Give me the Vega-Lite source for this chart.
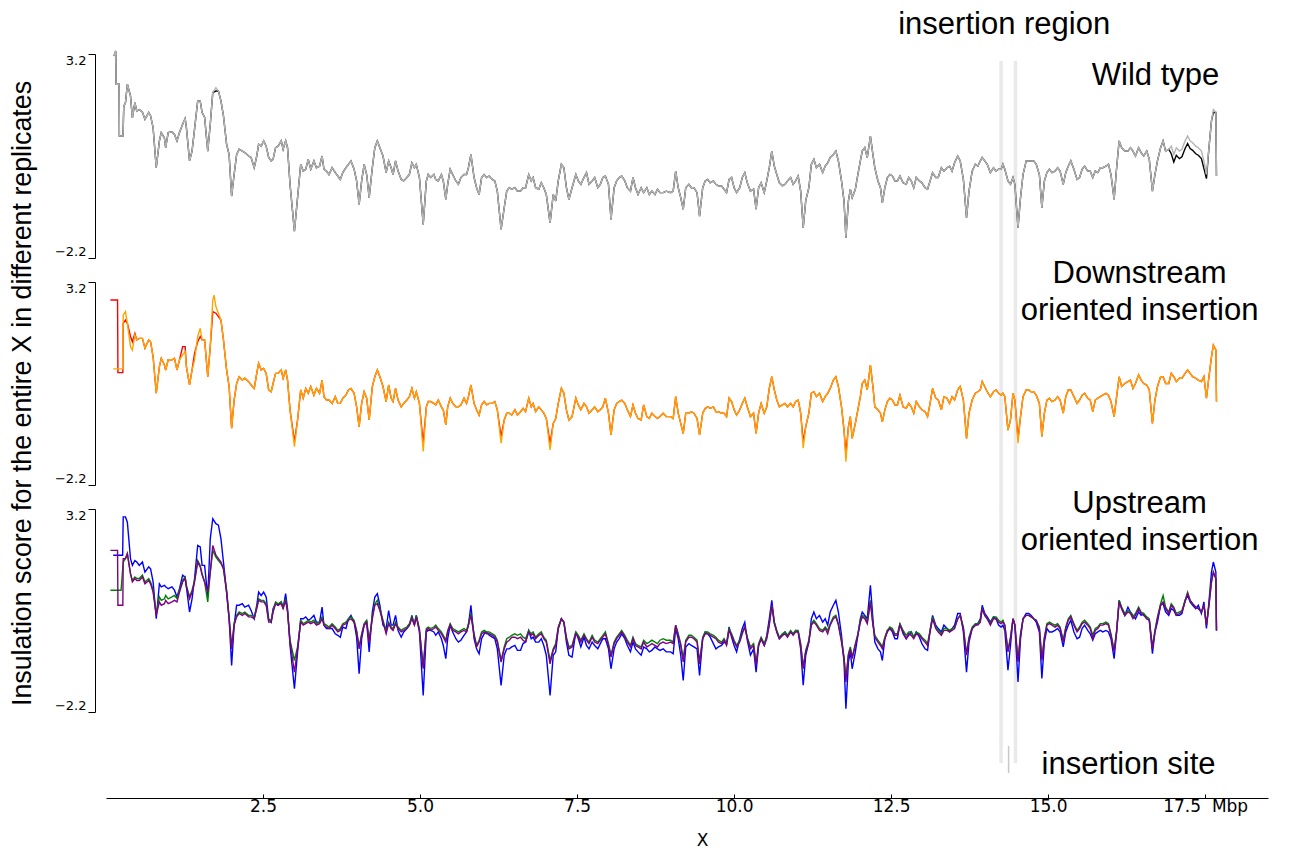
{
"$schema": "https://vega.github.io/schema/vega-lite/v6.json",
"background": "white",
"padding": {"left": 9, "top": 8, "right": 5, "bottom": 5},
"autosize": {"type": "pad"},
"config": {"view": {"stroke": null}, "axis": {"grid": false}},
"bounds": "flush",
"spacing": 24,
"resolve": {"scale": {"x": "independent", "y": "independent", "color": "independent"}},
"datasets": {
"ins": [{"pos": 14.25}, {"pos": 14.48}],
"scores": [
{"x":0.274,"d1":2.1,"d2":2.32,"u1":2.99,"u2":1.79,"u3":1.88},
{"x":0.07,"d1":2.72,"u2":1.04,"u3":2.1},
{"x":0.115,"d2":0.89,"u1":1.97},
{"x":0.127,"w1":3.15,"w2":3.15},
{"x":0.155,"w1":3.28,"w2":3.28},
{"x":0.161,"w1":2.4,"w2":2.4},
{"x":0.184,"d1":2.72,"u3":2.1},
{"x":0.19,"d1":0.79,"u3":0.64},
{"x":0.208,"w1":2.4,"w2":2.4},
{"x":0.213,"w1":1.03,"w2":1.03},
{"x":0.24,"u2":1.04},
{"x":0.265,"d2":0.89,"u1":1.97},
{"x":0.268,"d1":0.79,"u3":0.64},
{"x":0.271,"w1":1.03,"w2":1.03},
{"x":0.283,"w1":1.82,"w2":1.82},
{"x":0.31,"w1":1.91,"w2":1.91,"d1":2.19,"d2":2.41,"u1":2.99,"u2":1.88,"u3":1.88},
{"x":0.34,"w1":2.4,"w2":2.4,"d1":2.1,"d2":2.1,"u1":2.85,"u2":2.01,"u3":2.01},
{"x":0.39,"w1":2.09,"w2":2.09,"d1":1.75,"d2":1.48,"u1":1.88,"u2":1.48,"u3":1.48},
{"x":0.42,"w1":1.51,"w2":1.51,"d1":1.61,"d2":1.39,"u1":1.7,"u2":1.3,"u3":1.26},
{"x":0.46,"w1":1.91,"w2":1.91,"d1":1.83,"d2":1.79,"u1":1.83,"u2":1.39,"u3":1.35},
{"x":0.49,"w1":1.69,"w2":1.69,"d1":1.66,"d2":1.66,"u1":1.79,"u2":1.35,"u3":1.3},
{"x":0.53,"w1":1.73,"w2":1.73,"d1":1.7,"d2":1.7,"u1":1.7,"u2":1.35,"u3":1.3},
{"x":0.58,"w1":1.66,"w2":1.66,"d1":1.7,"d2":1.7,"u1":1.79,"u2":1.44,"u3":1.39},
{"x":0.62,"w1":1.47,"w2":1.47,"d1":1.44,"d2":1.44,"u1":1.52,"u2":1.26,"u3":1.21},
{"x":0.68,"w1":1.65,"w2":1.65,"d1":1.66,"d2":1.66,"u1":1.66,"u2":1.35,"u3":1.3},
{"x":0.71,"w1":1.56,"w2":1.56,"d1":1.61,"d2":1.61,"u1":1.61,"u2":1.26,"u3":1.21},
{"x":0.75,"w1":1.25,"w2":1.25,"d1":1.21,"d2":1.21,"u1":1.26,"u2":1.04,"u3":0.99},
{"x":0.8,"w1":0.19,"w2":0.19,"d1":0.24,"d2":0.24,"u1":0.28,"u2":0.42,"u3":0.37},
{"x":0.85,"w1":0.9,"w2":0.9,"d1":0.95,"d2":0.95,"u1":1.21,"u2":0.86,"u3":0.73},
{"x":0.88,"w1":1.12,"w2":1.12,"d1":1.17,"d2":1.17,"u1":1.13,"u2":0.77,"u3":0.64},
{"x":0.93,"w1":0.98,"w2":0.98,"d1":0.99,"d2":0.99,"u1":1.17,"u2":0.81,"u3":0.68},
{"x":0.95,"w1":0.72,"w2":0.72,"d1":0.86,"d2":0.86,"u1":1.13,"u2":0.9,"u3":0.77},
{"x":0.99,"w1":1.12,"w2":1.12,"d1":1.13,"d2":1.13,"u1":1.08,"u2":0.81,"u3":0.68},
{"x":1.05,"w1":1.14,"w2":1.14,"d1":1.13,"d2":1.13,"u1":1.13,"u2":0.86,"u3":0.73},
{"x":1.09,"w1":1.07,"w2":1.07,"d1":1.17,"d2":1.17,"u1":1.04,"u2":0.9,"u3":0.77},
{"x":1.13,"w1":0.9,"w2":0.9,"d1":0.86,"d2":0.86,"u1":0.86,"u2":0.82,"u3":0.73},
{"x":1.17,"w1":1.12,"w2":1.12,"d1":1.13,"d2":1.13,"u1":1.08,"u2":1.04,"u3":0.99},
{"x":1.22,"w1":1.34,"w2":1.34,"d1":1.48,"d2":1.26,"u1":1.44,"u2":1.3,"u3":1.26},
{"x":1.26,"w1":1.49,"w2":1.49,"d1":1.48,"d2":1.35,"u1":1.39,"u2":1.39,"u3":1.35},
{"x":1.28,"w1":1.25,"w2":1.25,"d1":0.95,"d2":0.95,"u1":1.13,"u2":1.17,"u3":1.13},
{"x":1.33,"w1":0.37,"w2":0.37,"d1":0.46,"d2":0.46,"u1":0.46,"u2":0.86,"u3":0.81},
{"x":1.37,"w1":0.63,"w2":0.63,"d1":0.86,"d2":0.86,"u1":0.81,"u2":1.04,"u3":0.99},
{"x":1.41,"w1":1.21,"w2":1.21,"d1":1.3,"d2":1.13,"u1":1.35,"u2":1.3,"u3":1.26},
{"x":1.46,"w1":1.96,"w2":1.96,"d1":1.61,"d2":1.75,"u1":2.23,"u2":1.83,"u3":1.79},
{"x":1.5,"w1":1.96,"w2":1.96,"d1":1.75,"d2":1.97,"u1":2.19,"u2":1.7,"u3":1.66},
{"x":1.53,"w1":1.65,"w2":1.65,"d1":1.66,"d2":1.66,"u1":1.7,"u2":1.48,"u3":1.44},
{"x":1.57,"w1":1.53,"w2":1.53,"d1":1.66,"d2":1.66,"u1":1.7,"u2":1.26,"u3":1.26},
{"x":1.62,"w1":0.63,"w2":0.63,"d1":0.68,"d2":0.68,"u1":0.86,"u2":0.73,"u3":0.99},
{"x":1.66,"w1":1.34,"w2":1.34,"d1":1.48,"d2":1.48,"u1":2.41,"u2":1.52,"u3":1.52},
{"x":1.7,"w1":2.18,"w2":2.18,"d1":2.41,"d2":2.72,"u1":2.94,"u2":2.1,"u3":2.23},
{"x":1.72,"d2":2.85},
{"x":1.75,"w1":2.22,"w2":2.31,"d1":2.37,"d2":2.54,"u1":2.81,"u2":1.92,"u3":1.97},
{"x":1.79,"w1":2.22,"w2":2.22,"d1":2.28,"d2":2.37,"u1":2.77,"u2":1.83,"u3":1.88},
{"x":1.83,"w1":1.96,"w2":1.96,"d1":2.19,"d2":2.19,"u1":2.41,"u2":1.75,"u3":1.79},
{"x":1.87,"w1":1.56,"w2":1.56,"d1":1.66,"d2":1.66,"u1":1.79,"u2":1.61,"u3":1.61},
{"x":1.92,"w1":0.81,"w2":0.81,"d1":0.86,"d2":0.86,"u1":0.99,"u2":1.04,"u3":0.99},
{"x":1.96,"w1":0.54,"w2":0.54,"d1":0.42,"d2":0.42,"u1":0.28,"u2":0.33,"u3":0.28},
{"x":2.0,"w1":-0.56,"w2":-0.56,"d1":-0.69,"d2":-0.69,"u1":-0.96,"u2":-0.47,"u3":-0.52},
{"x":2.04,"w1":0.01,"w2":0.01,"d1":0.06,"d2":0.06,"u1":0.11,"u2":0.15,"u3":0.11},
{"x":2.08,"w1":0.54,"w2":0.54,"d1":0.5,"d2":0.5,"u1":0.64,"u2":0.37,"u3":0.33},
{"x":2.12,"w1":0.68,"w2":0.68,"d1":0.68,"d2":0.68,"u1":0.64,"u2":0.46,"u3":0.42},
{"x":2.17,"w1":0.63,"w2":0.63,"d1":0.59,"d2":0.59,"u1":0.68,"u2":0.42,"u3":0.37},
{"x":2.21,"w1":0.59,"w2":0.59,"d1":0.64,"d2":0.64,"u1":0.59,"u2":0.46,"u3":0.42},
{"x":2.27,"w1":0.5,"w2":0.5,"d1":0.55,"d2":0.55,"u1":0.64,"u2":0.37,"u3":0.33},
{"x":2.31,"w1":0.46,"w2":0.46,"d1":0.46,"d2":0.46,"u1":0.5,"u2":0.37,"u3":0.33},
{"x":2.36,"w1":0.19,"w2":0.19,"d1":0.37,"d2":0.37,"u1":0.28,"u2":0.33,"u3":0.28},
{"x":2.4,"w1":0.5,"w2":0.5,"d1":0.77,"d2":0.77,"u1":0.64,"u2":0.59,"u3":0.55},
{"x":2.43,"w1":0.81,"w2":0.81,"d1":1.04,"d2":1.04,"u1":0.99,"u2":0.81,"u3":0.77},
{"x":2.47,"w1":0.76,"w2":0.76,"d1":0.86,"d2":0.86,"u1":0.9,"u2":0.77,"u3":0.73},
{"x":2.51,"w1":0.9,"w2":0.9,"d1":0.9,"d2":0.9,"u1":0.99,"u2":0.77,"u3":0.73},
{"x":2.55,"w1":0.76,"w2":0.76,"d1":0.77,"d2":0.77,"u1":0.86,"u2":0.68,"u3":0.64},
{"x":2.59,"w1":0.46,"w2":0.46,"d1":0.33,"d2":0.33,"u1":0.28,"u2":0.24,"u3":0.19},
{"x":2.63,"w1":0.37,"w2":0.37,"d1":0.28,"d2":0.28,"u1":0.19,"u2":0.24,"u3":0.19},
{"x":2.66,"w1":0.41,"w2":0.41,"d1":0.5,"d2":0.5,"u1":0.55,"u2":0.5,"u3":0.46},
{"x":2.7,"w1":0.72,"w2":0.72,"d1":0.77,"d2":0.77,"u1":0.68,"u2":0.73,"u3":0.68},
{"x":2.74,"w1":0.76,"w2":0.76,"d1":0.77,"d2":0.77,"u1":0.64,"u2":0.68,"u3":0.64},
{"x":2.79,"w1":0.9,"w2":0.9,"d1":0.86,"d2":0.86,"u1":0.73,"u2":0.73,"u3":0.68},
{"x":2.82,"w1":0.68,"w2":0.68,"d1":0.64,"d2":0.64,"u1":0.55,"u2":0.59,"u3":0.55},
{"x":2.86,"w1":0.9,"w2":0.9,"d1":0.86,"d2":0.86,"u1":0.95,"u2":0.81,"u3":0.77},
{"x":2.89,"w1":0.72,"w2":0.72,"d1":0.59,"d2":0.59,"u1":0.55,"u2":0.5,"u3":0.46},
{"x":2.93,"w1":-0.25,"w2":-0.25,"d1":-0.2,"d2":-0.2,"u1":-0.43,"u2":-0.29,"u3":-0.34},
{"x":3.0,"w1":-1.49,"w2":-1.49,"d1":-1.05,"d2":-1.18,"u1":-1.58,"u2":-0.83,"u3":-1.14},
{"x":3.05,"w1":-0.6,"w2":-0.6,"d1":-0.47,"d2":-0.47,"u1":-0.6,"u2":-0.47,"u3":-0.52},
{"x":3.1,"w1":0.28,"w2":0.28,"d1":0.33,"d2":0.33,"u1":0.28,"u2":0.24,"u3":0.19},
{"x":3.14,"w1":0.1,"w2":0.1,"d1":0.11,"d2":0.11,"u1":0.28,"u2":0.15,"u3":0.11},
{"x":3.18,"w1":0.15,"w2":0.15,"d1":0.37,"d2":0.37,"u1":0.33,"u2":0.19,"u3":0.15},
{"x":3.22,"w1":0.41,"w2":0.41,"d1":0.24,"d2":0.24,"u1":0.24,"u2":0.24,"u3":0.19},
{"x":3.26,"w1":0.15,"w2":0.15,"d1":0.42,"d2":0.42,"u1":0.28,"u2":0.19,"u3":0.15},
{"x":3.31,"w1":0.37,"w2":0.37,"d1":0.19,"d2":0.19,"u1":0.37,"u2":0.24,"u3":0.19},
{"x":3.35,"w1":0.19,"w2":0.19,"d1":0.37,"d2":0.37,"u1":0.19,"u2":0.15,"u3":0.11},
{"x":3.4,"w1":0.23,"w2":0.23,"d1":0.24,"d2":0.24,"u1":0.19,"u2":0.19,"u3":0.15},
{"x":3.44,"w1":0.5,"w2":0.5,"d1":0.59,"d2":0.59,"u1":0.59,"u2":0.33,"u3":0.28},
{"x":3.47,"w1":0.15,"w2":0.15,"d1":0.15,"d2":0.15,"u1":0.11,"u2":0.15,"u3":0.11},
{"x":3.51,"w1":0.1,"w2":0.1,"d1":0.06,"d2":0.06,"u1":0.02,"u2":0.11,"u3":0.06},
{"x":3.55,"w1":0.01,"w2":0.01,"d1":0.06,"d2":0.06,"u1":0.02,"u2":0.06,"u3":0.02},
{"x":3.6,"w1":0.19,"w2":0.19,"d1":-0.03,"d2":-0.03,"u1":0.02,"u2":0.15,"u3":0.11},
{"x":3.65,"w1":0.06,"w2":0.06,"d1":0.15,"d2":0.15,"u1":-0.12,"u2":0.06,"u3":0.02},
{"x":3.69,"w1":-0.03,"w2":-0.03,"d1":-0.03,"d2":-0.03,"u1":-0.16,"u2":-0.03,"u3":-0.07},
{"x":3.73,"w1":-0.12,"w2":-0.12,"d1":-0.03,"d2":-0.03,"u1":-0.21,"u2":0.02,"u3":-0.03},
{"x":3.77,"w1":0.06,"w2":0.06,"d1":0.11,"d2":0.11,"u1":0.06,"u2":0.15,"u3":0.11},
{"x":3.82,"w1":0.19,"w2":0.19,"d1":0.19,"d2":0.19,"u1":0.02,"u2":0.19,"u3":0.15},
{"x":3.86,"w1":0.28,"w2":0.28,"d1":0.33,"d2":0.33,"u1":0.28,"u2":0.28,"u3":0.24},
{"x":3.9,"w1":0.37,"w2":0.37,"d1":0.37,"d2":0.37,"u1":0.37,"u2":0.33,"u3":0.28},
{"x":3.95,"w1":0.15,"w2":0.15,"d1":0.24,"d2":0.24,"u1":0.19,"u2":0.24,"u3":0.19},
{"x":3.99,"w1":-0.16,"w2":-0.16,"d1":-0.12,"d2":-0.12,"u1":-0.21,"u2":-0.03,"u3":-0.07},
{"x":4.03,"w1":-0.78,"w2":-0.78,"d1":-0.65,"d2":-0.65,"u1":-1.18,"u2":-0.47,"u3":-0.52},
{"x":4.07,"w1":-0.16,"w2":-0.16,"d1":-0.03,"d2":-0.03,"u1":-0.25,"u2":-0.12,"u3":-0.16},
{"x":4.11,"w1":0.28,"w2":0.28,"d1":0.28,"d2":0.28,"u1":0.11,"u2":0.15,"u3":0.11},
{"x":4.15,"w1":0.01,"w2":0.01,"d1":0.11,"d2":0.11,"u1":0.19,"u2":0.24,"u3":0.19},
{"x":4.19,"w1":-0.6,"w2":-0.6,"d1":-0.47,"d2":-0.47,"u1":-0.6,"u2":-0.29,"u3":-0.34},
{"x":4.24,"w1":0.19,"w2":0.19,"d1":0.42,"d2":0.42,"u1":0.46,"u2":0.33,"u3":0.28},
{"x":4.28,"w1":0.72,"w2":0.72,"d1":0.68,"d2":0.68,"u1":0.86,"u2":0.68,"u3":0.64},
{"x":4.32,"w1":0.9,"w2":0.9,"d1":0.86,"d2":0.86,"u1":0.95,"u2":0.77,"u3":0.68},
{"x":4.36,"w1":0.72,"w2":0.72,"d1":0.68,"d2":0.68,"u1":0.64,"u2":0.55,"u3":0.5},
{"x":4.41,"w1":0.5,"w2":0.5,"d1":0.42,"d2":0.42,"u1":0.11,"u2":0.24,"u3":0.19},
{"x":4.46,"w1":0.06,"w2":0.06,"d1":0.02,"d2":0.02,"u1":0.02,"u2":-0.07,"u3":-0.12},
{"x":4.5,"w1":0.37,"w2":0.37,"d1":0.46,"d2":0.46,"u1":0.5,"u2":0.19,"u3":0.15},
{"x":4.54,"w1":0.19,"w2":0.19,"d1":0.11,"d2":0.11,"u1":0.11,"u2":0.06,"u3":0.02},
{"x":4.57,"w1":0.01,"w2":0.01,"d1":0.02,"d2":0.02,"u1":0.11,"u2":0.02,"u3":-0.03},
{"x":4.61,"w1":0.37,"w2":0.37,"d1":0.37,"d2":0.37,"u1":0.37,"u2":0.19,"u3":0.15},
{"x":4.65,"w1":0.1,"w2":0.1,"d1":0.06,"d2":0.06,"u1":-0.03,"u2":0.06,"u3":0.02},
{"x":4.7,"w1":-0.12,"w2":-0.12,"d1":-0.12,"d2":-0.12,"u1":-0.21,"u2":-0.03,"u3":-0.07},
{"x":4.74,"w1":-0.16,"w2":-0.16,"d1":-0.03,"d2":-0.03,"u1":-0.07,"u2":0.02,"u3":-0.03},
{"x":4.79,"w1":-0.07,"w2":-0.07,"d1":0.06,"d2":0.06,"u1":0.02,"u2":0.06,"u3":0.02},
{"x":4.83,"w1":0.01,"w2":0.01,"d1":0.15,"d2":0.15,"u1":0.11,"u2":0.15,"u3":0.11},
{"x":4.87,"w1":0.32,"w2":0.32,"d1":0.37,"d2":0.37,"u1":0.37,"u2":0.33,"u3":0.28},
{"x":4.91,"w1":0.19,"w2":0.19,"d1":0.11,"d2":0.11,"u1":0.11,"u2":0.15,"u3":0.11},
{"x":4.94,"w1":0.28,"w2":0.28,"d1":0.28,"d2":0.28,"u1":0.37,"u2":0.37,"u3":0.33},
{"x":4.99,"w1":-0.07,"w2":-0.07,"d1":-0.03,"d2":-0.03,"u1":-0.07,"u2":0.02,"u3":-0.03},
{"x":5.05,"w1":-1.31,"w2":-1.31,"d1":-1.09,"d2":-1.31,"u1":-1.76,"u2":-1.0,"u3":-1.05},
{"x":5.1,"w1":-0.16,"w2":-0.16,"d1":-0.12,"d2":-0.12,"u1":-0.07,"u2":0.02,"u3":-0.03},
{"x":5.13,"w1":0.01,"w2":0.01,"d1":0.02,"d2":0.02,"u1":-0.03,"u2":0.06,"u3":0.02},
{"x":5.17,"w1":-0.07,"w2":-0.07,"d1":0.02,"d2":0.02,"u1":-0.03,"u2":0.02,"u3":-0.03},
{"x":5.22,"w1":0.01,"w2":0.01,"d1":-0.03,"d2":-0.03,"u1":-0.07,"u2":0.06,"u3":0.02},
{"x":5.25,"w1":-0.12,"w2":-0.12,"d1":-0.07,"d2":-0.07,"u1":-0.16,"u2":0.11,"u3":0.06},
{"x":5.29,"w1":-0.16,"w2":-0.16,"d1":0.06,"d2":0.06,"u1":-0.07,"u2":0.02,"u3":-0.03},
{"x":5.34,"w1":0.01,"w2":0.01,"d1":-0.12,"d2":-0.12,"u1":-0.25,"u2":-0.07,"u3":-0.12},
{"x":5.37,"w1":-0.16,"w2":-0.16,"d1":-0.2,"d2":-0.2,"u1":-0.43,"u2":-0.16,"u3":-0.21},
{"x":5.41,"w1":-0.65,"w2":-0.65,"d1":-0.6,"d2":-0.6,"u1":-0.78,"u2":-0.29,"u3":-0.34},
{"x":5.44,"w1":-0.25,"w2":-0.25,"d1":-0.12,"d2":-0.12,"u1":-0.25,"u2":-0.03,"u3":-0.07},
{"x":5.48,"w1":0.15,"w2":0.15,"d1":0.11,"d2":0.11,"u1":0.11,"u2":0.15,"u3":0.11},
{"x":5.52,"w1":0.01,"w2":0.01,"d1":-0.03,"d2":-0.03,"u1":-0.07,"u2":0.02,"u3":-0.03},
{"x":5.57,"w1":-0.16,"w2":-0.16,"d1":-0.12,"d2":-0.12,"u1":-0.25,"u2":-0.03,"u3":-0.07},
{"x":5.61,"w1":-0.25,"w2":-0.25,"d1":-0.12,"d2":-0.12,"u1":-0.34,"u2":-0.07,"u3":-0.12},
{"x":5.65,"w1":-0.07,"w2":-0.07,"d1":-0.07,"d2":-0.07,"u1":-0.29,"u2":-0.03,"u3":-0.07},
{"x":5.7,"w1":0.01,"w2":0.01,"d1":0.11,"d2":0.11,"u1":-0.16,"u2":0.02,"u3":-0.03},
{"x":5.74,"w1":0.01,"w2":0.01,"d1":-0.03,"d2":-0.03,"u1":-0.07,"u2":-0.03,"u3":-0.07},
{"x":5.77,"w1":0.19,"w2":0.19,"d1":0.15,"d2":0.15,"u1":0.11,"u2":0.15,"u3":0.11},
{"x":5.81,"w1":0.54,"w2":0.54,"d1":0.46,"d2":0.46,"u1":0.64,"u2":0.42,"u3":0.37},
{"x":5.86,"w1":-0.07,"w2":-0.07,"d1":-0.03,"d2":-0.03,"u1":-0.25,"u2":-0.12,"u3":-0.16},
{"x":5.9,"w1":-0.34,"w2":-0.34,"d1":-0.2,"d2":-0.2,"u1":-0.52,"u2":-0.43,"u3":-0.47},
{"x":5.94,"w1":-0.52,"w2":-0.52,"d1":-0.34,"d2":-0.34,"u1":-0.65,"u2":-0.29,"u3":-0.34},
{"x":5.98,"w1":-0.07,"w2":-0.07,"d1":-0.07,"d2":-0.07,"u1":-0.25,"u2":-0.07,"u3":-0.12},
{"x":6.02,"w1":0.01,"w2":0.01,"d1":0.02,"d2":0.02,"u1":-0.12,"u2":-0.03,"u3":-0.07},
{"x":6.06,"w1":-0.07,"w2":-0.07,"d1":-0.07,"d2":-0.07,"u1":-0.07,"u2":-0.07,"u3":-0.12},
{"x":6.1,"w1":-0.03,"w2":-0.03,"d1":-0.03,"d2":-0.03,"u1":-0.16,"u2":-0.07,"u3":-0.12},
{"x":6.15,"w1":-0.12,"w2":-0.12,"d1":-0.03,"d2":-0.03,"u1":-0.21,"u2":-0.12,"u3":-0.16},
{"x":6.19,"w1":-0.16,"w2":-0.16,"d1":0.02,"d2":0.02,"u1":-0.25,"u2":-0.16,"u3":-0.21},
{"x":6.23,"w1":-0.43,"w2":-0.43,"d1":-0.2,"d2":-0.2,"u1":-0.52,"u2":-0.29,"u3":-0.34},
{"x":6.29,"w1":-1.44,"w2":-1.44,"d1":-0.91,"d2":-1.09,"u1":-1.49,"u2":-0.83,"u3":-0.87},
{"x":6.34,"w1":-0.87,"w2":-0.87,"d1":-0.47,"d2":-0.47,"u1":-0.69,"u2":-0.47,"u3":-0.52},
{"x":6.38,"w1":-0.43,"w2":-0.43,"d1":-0.29,"d2":-0.29,"u1":-0.52,"u2":-0.25,"u3":-0.34},
{"x":6.42,"w1":-0.34,"w2":-0.34,"d1":-0.29,"d2":-0.29,"u1":-0.52,"u2":-0.21,"u3":-0.29},
{"x":6.46,"w1":-0.38,"w2":-0.38,"d1":-0.34,"d2":-0.34,"u1":-0.47,"u2":-0.16,"u3":-0.21},
{"x":6.51,"w1":-0.34,"w2":-0.34,"d1":-0.2,"d2":-0.2,"u1":-0.43,"u2":-0.12,"u3":-0.21},
{"x":6.55,"w1":-0.43,"w2":-0.43,"d1":-0.34,"d2":-0.34,"u1":-0.56,"u2":-0.16,"u3":-0.25},
{"x":6.6,"w1":-0.43,"w2":-0.43,"d1":-0.25,"d2":-0.25,"u1":-0.56,"u2":-0.12,"u3":-0.21},
{"x":6.64,"w1":-0.34,"w2":-0.34,"d1":-0.16,"d2":-0.16,"u1":-0.38,"u2":-0.21,"u3":-0.29},
{"x":6.68,"w1":-0.34,"w2":-0.34,"d1":-0.25,"d2":-0.25,"u1":-0.34,"u2":-0.25,"u3":-0.34},
{"x":6.73,"w1":0.01,"w2":0.01,"d1":0.11,"d2":0.11,"u1":-0.03,"u2":-0.03,"u3":-0.07},
{"x":6.77,"w1":-0.16,"w2":-0.16,"d1":-0.12,"d2":-0.12,"u1":-0.25,"u2":-0.12,"u3":-0.16},
{"x":6.8,"w1":-0.07,"w2":-0.07,"d1":-0.03,"d2":-0.03,"u1":-0.21,"u2":-0.07,"u3":-0.12},
{"x":6.84,"w1":-0.34,"w2":-0.34,"d1":-0.25,"d2":-0.25,"u1":-0.34,"u2":-0.21,"u3":-0.25},
{"x":6.89,"w1":-0.38,"w2":-0.38,"d1":-0.12,"d2":-0.12,"u1":-0.34,"u2":-0.12,"u3":-0.16},
{"x":6.93,"w1":-0.21,"w2":-0.21,"d1":-0.2,"d2":-0.2,"u1":-0.25,"u2":-0.07,"u3":-0.12},
{"x":6.97,"w1":-0.34,"w2":-0.34,"d1":-0.29,"d2":-0.29,"u1":-0.43,"u2":-0.21,"u3":-0.25},
{"x":7.01,"w1":-0.52,"w2":-0.52,"d1":-0.43,"d2":-0.43,"u1":-0.69,"u2":-0.29,"u3":-0.34},
{"x":7.07,"w1":-1.27,"w2":-1.27,"d1":-1.09,"d2":-1.27,"u1":-1.76,"u2":-0.83,"u3":-0.92},
{"x":7.12,"w1":-0.52,"w2":-0.52,"d1":-0.56,"d2":-0.56,"u1":-0.69,"u2":-0.52,"u3":-0.56},
{"x":7.16,"w1":-0.69,"w2":-0.69,"d1":-0.43,"d2":-0.43,"u1":-0.6,"u2":-0.38,"u3":-0.43},
{"x":7.2,"w1":-0.16,"w2":-0.16,"d1":-0.03,"d2":-0.03,"u1":0.02,"u2":0.06,"u3":0.02},
{"x":7.25,"w1":0.28,"w2":0.28,"d1":0.37,"d2":0.37,"u1":0.28,"u2":0.28,"u3":0.28},
{"x":7.29,"w1":0.19,"w2":0.19,"d1":0.24,"d2":0.24,"u1":0.19,"u2":0.19,"u3":0.19},
{"x":7.33,"w1":-0.34,"w2":-0.34,"d1":-0.2,"d2":-0.2,"u1":-0.34,"u2":-0.21,"u3":-0.25},
{"x":7.37,"w1":-0.65,"w2":-0.65,"d1":-0.47,"d2":-0.47,"u1":-0.69,"u2":-0.47,"u3":-0.52},
{"x":7.42,"w1":-0.34,"w2":-0.34,"d1":-0.38,"d2":-0.38,"u1":-0.74,"u2":-0.43,"u3":-0.47},
{"x":7.48,"w1":0.01,"w2":0.01,"d1":0.11,"d2":0.11,"u1":-0.07,"u2":-0.07,"u3":-0.12},
{"x":7.52,"w1":-0.16,"w2":-0.16,"d1":-0.07,"d2":-0.07,"u1":-0.25,"u2":-0.16,"u3":-0.21},
{"x":7.56,"w1":-0.25,"w2":-0.25,"d1":-0.2,"d2":-0.2,"u1":-0.47,"u2":-0.29,"u3":-0.34},
{"x":7.61,"w1":-0.07,"w2":-0.07,"d1":-0.03,"d2":-0.03,"u1":-0.21,"u2":-0.12,"u3":-0.16},
{"x":7.65,"w1":0.06,"w2":0.06,"d1":-0.12,"d2":-0.12,"u1":-0.43,"u2":-0.25,"u3":-0.29},
{"x":7.69,"w1":-0.25,"w2":-0.25,"d1":-0.29,"d2":-0.29,"u1":-0.52,"u2":-0.34,"u3":-0.38},
{"x":7.74,"w1":-0.16,"w2":-0.16,"d1":-0.2,"d2":-0.2,"u1":-0.34,"u2":-0.16,"u3":-0.21},
{"x":7.78,"w1":-0.07,"w2":-0.07,"d1":-0.12,"d2":-0.12,"u1":-0.43,"u2":-0.29,"u3":-0.34},
{"x":7.83,"w1":-0.34,"w2":-0.34,"d1":-0.25,"d2":-0.25,"u1":-0.52,"u2":-0.34,"u3":-0.38},
{"x":7.87,"w1":-0.25,"w2":-0.25,"d1":-0.2,"d2":-0.2,"u1":-0.38,"u2":-0.25,"u3":-0.29},
{"x":7.91,"w1":-0.07,"w2":-0.07,"d1":-0.12,"d2":-0.12,"u1":-0.25,"u2":-0.16,"u3":-0.21},
{"x":7.95,"w1":-0.03,"w2":-0.03,"d1":0.11,"d2":0.11,"u1":-0.25,"u2":-0.07,"u3":-0.12},
{"x":8.0,"w1":-0.25,"w2":-0.25,"d1":-0.29,"d2":-0.29,"u1":-0.52,"u2":-0.38,"u3":-0.43},
{"x":8.04,"w1":-1.18,"w2":-1.18,"d1":-0.87,"d2":-0.87,"u1":-1.05,"u2":-0.69,"u3":-0.74},
{"x":8.09,"w1":-0.34,"w2":-0.34,"d1":-0.2,"d2":-0.2,"u1":-0.52,"u2":-0.34,"u3":-0.38},
{"x":8.13,"w1":-0.16,"w2":-0.16,"d1":-0.03,"d2":-0.03,"u1":-0.34,"u2":-0.21,"u3":-0.25},
{"x":8.17,"w1":-0.07,"w2":-0.07,"d1":0.02,"d2":0.02,"u1":-0.25,"u2":-0.12,"u3":-0.16},
{"x":8.21,"w1":-0.03,"w2":-0.03,"d1":0.06,"d2":0.06,"u1":-0.12,"u2":-0.03,"u3":-0.07},
{"x":8.26,"w1":-0.16,"w2":-0.16,"d1":-0.03,"d2":-0.03,"u1":-0.25,"u2":-0.16,"u3":-0.21},
{"x":8.3,"w1":-0.34,"w2":-0.34,"d1":-0.2,"d2":-0.2,"u1":-0.43,"u2":-0.29,"u3":-0.34},
{"x":8.35,"w1":-0.43,"w2":-0.43,"d1":-0.38,"d2":-0.38,"u1":-0.6,"u2":-0.43,"u3":-0.47},
{"x":8.39,"w1":-0.07,"w2":-0.07,"d1":-0.07,"d2":-0.07,"u1":-0.34,"u2":-0.21,"u3":-0.25},
{"x":8.43,"w1":-0.34,"w2":-0.34,"d1":-0.29,"d2":-0.29,"u1":-0.52,"u2":-0.38,"u3":-0.43},
{"x":8.47,"w1":-0.52,"w2":-0.52,"d1":-0.43,"d2":-0.43,"u1":-0.6,"u2":-0.43,"u3":-0.47},
{"x":8.52,"w1":-0.34,"w2":-0.34,"d1":-0.47,"d2":-0.47,"u1":-0.69,"u2":-0.47,"u3":-0.52},
{"x":8.56,"w1":-0.47,"w2":-0.47,"d1":-0.07,"d2":-0.07,"u1":-0.47,"u2":-0.29,"u3":-0.34},
{"x":8.61,"w1":-0.34,"w2":-0.34,"d1":-0.38,"d2":-0.38,"u1":-0.52,"u2":-0.38,"u3":-0.47},
{"x":8.65,"w1":-0.52,"w2":-0.52,"d1":-0.43,"d2":-0.43,"u1":-0.6,"u2":-0.34,"u3":-0.43},
{"x":8.69,"w1":-0.43,"w2":-0.43,"d1":-0.29,"d2":-0.29,"u1":-0.56,"u2":-0.29,"u3":-0.38},
{"x":8.74,"w1":-0.52,"w2":-0.52,"d1":-0.38,"d2":-0.38,"u1":-0.47,"u2":-0.34,"u3":-0.43},
{"x":8.78,"w1":-0.38,"w2":-0.38,"d1":-0.43,"d2":-0.43,"u1":-0.52,"u2":-0.38,"u3":-0.47},
{"x":8.82,"w1":-0.47,"w2":-0.47,"d1":-0.38,"d2":-0.38,"u1":-0.56,"u2":-0.29,"u3":-0.38},
{"x":8.87,"w1":-0.47,"w2":-0.47,"d1":-0.29,"d2":-0.29,"u1":-0.52,"u2":-0.25,"u3":-0.34},
{"x":8.92,"w1":-0.43,"w2":-0.43,"d1":-0.38,"d2":-0.38,"u1":-0.6,"u2":-0.29,"u3":-0.38},
{"x":8.99,"w1":-0.47,"w2":-0.47,"d1":-0.38,"d2":-0.38,"u1":-0.6,"u2":-0.29,"u3":-0.34},
{"x":9.03,"w1":-0.43,"w2":-0.43,"d1":-0.43,"d2":-0.43,"u1":-0.65,"u2":-0.34,"u3":-0.38},
{"x":9.07,"w1":0.1,"w2":0.1,"d1":0.15,"d2":0.15,"u1":0.02,"u2":0.11,"u3":0.11},
{"x":9.11,"w1":-0.34,"w2":-0.34,"d1":-0.29,"d2":-0.29,"u1":-0.25,"u2":-0.12,"u3":-0.16},
{"x":9.15,"w1":-0.6,"w2":-0.6,"d1":-0.56,"d2":-0.56,"u1":-0.69,"u2":-0.38,"u3":-0.43},
{"x":9.19,"w1":-0.91,"w2":-0.91,"d1":-0.83,"d2":-0.83,"u1":-1.36,"u2":-0.78,"u3":-0.87},
{"x":9.23,"w1":-0.34,"w2":-0.34,"d1":-0.29,"d2":-0.29,"u1":-0.47,"u2":-0.29,"u3":-0.34},
{"x":9.28,"w1":-0.25,"w2":-0.25,"d1":-0.29,"d2":-0.29,"u1":-0.38,"u2":-0.16,"u3":-0.21},
{"x":9.32,"w1":-0.34,"w2":-0.34,"d1":-0.25,"d2":-0.25,"u1":-0.43,"u2":-0.16,"u3":-0.21},
{"x":9.36,"w1":-0.34,"w2":-0.34,"d1":-0.29,"d2":-0.29,"u1":-0.47,"u2":-0.21,"u3":-0.25},
{"x":9.41,"w1":-0.47,"w2":-0.47,"d1":-0.43,"d2":-0.43,"u1":-0.52,"u2":-0.29,"u3":-0.34},
{"x":9.45,"w1":-1.09,"w2":-1.09,"d1":-0.87,"d2":-0.87,"u1":-1.23,"u2":-0.87,"u3":-0.92},
{"x":9.5,"w1":-0.34,"w2":-0.34,"d1":-0.29,"d2":-0.29,"u1":-0.25,"u2":-0.21,"u3":-0.25},
{"x":9.54,"w1":-0.16,"w2":-0.16,"d1":-0.16,"d2":-0.16,"u1":-0.07,"u2":-0.07,"u3":-0.12},
{"x":9.58,"w1":-0.12,"w2":-0.12,"d1":-0.12,"d2":-0.12,"u1":-0.12,"u2":-0.07,"u3":-0.12},
{"x":9.62,"w1":-0.21,"w2":-0.21,"d1":-0.16,"d2":-0.16,"u1":-0.21,"u2":-0.12,"u3":-0.16},
{"x":9.67,"w1":-0.16,"w2":-0.16,"d1":-0.12,"d2":-0.12,"u1":-0.38,"u2":-0.16,"u3":-0.21},
{"x":9.71,"w1":-0.25,"w2":-0.25,"d1":-0.25,"d2":-0.25,"u1":-0.52,"u2":-0.21,"u3":-0.25},
{"x":9.75,"w1":-0.29,"w2":-0.29,"d1":-0.25,"d2":-0.25,"u1":-0.47,"u2":-0.29,"u3":-0.34},
{"x":9.8,"w1":-0.29,"w2":-0.29,"d1":-0.29,"d2":-0.29,"u1":-0.43,"u2":-0.34,"u3":-0.38},
{"x":9.84,"w1":-0.38,"w2":-0.38,"d1":-0.29,"d2":-0.29,"u1":-0.34,"u2":-0.25,"u3":-0.29},
{"x":9.88,"w1":-0.47,"w2":-0.47,"d1":-0.38,"d2":-0.38,"u1":-0.38,"u2":-0.38,"u3":-0.43},
{"x":9.92,"w1":-0.12,"w2":-0.12,"d1":0.11,"d2":0.11,"u1":0.06,"u2":0.02,"u3":-0.03},
{"x":9.96,"w1":-0.07,"w2":-0.07,"d1":0.02,"d2":0.02,"u1":-0.21,"u2":-0.12,"u3":-0.16},
{"x":10.0,"w1":-0.34,"w2":-0.34,"d1":-0.2,"d2":-0.2,"u1":-0.43,"u2":-0.29,"u3":-0.34},
{"x":10.04,"w1":-0.47,"w2":-0.47,"d1":-0.34,"d2":-0.34,"u1":-0.6,"u2":-0.43,"u3":-0.47},
{"x":10.09,"w1":-0.34,"w2":-0.34,"d1":-0.2,"d2":-0.2,"u1":-0.25,"u2":-0.29,"u3":-0.34},
{"x":10.13,"w1":-0.07,"w2":-0.07,"d1":-0.03,"d2":-0.03,"u1":0.02,"u2":-0.07,"u3":-0.12},
{"x":10.17,"w1":0.06,"w2":0.06,"d1":0.11,"d2":0.11,"u1":0.19,"u2":0.06,"u3":0.06},
{"x":10.21,"w1":-0.21,"w2":-0.21,"d1":-0.12,"d2":-0.12,"u1":-0.29,"u2":-0.21,"u3":-0.25},
{"x":10.26,"w1":-0.43,"w2":-0.43,"d1":-0.38,"d2":-0.38,"u1":-0.69,"u2":-0.47,"u3":-0.52},
{"x":10.31,"w1":-0.38,"w2":-0.38,"d1":-0.29,"d2":-0.29,"u1":-0.52,"u2":-0.38,"u3":-0.43},
{"x":10.35,"w1":-0.91,"w2":-0.91,"d1":-0.83,"d2":-0.83,"u1":-1.14,"u2":-0.92,"u3":-0.96},
{"x":10.39,"w1":-0.34,"w2":-0.34,"d1":-0.29,"d2":-0.29,"u1":-0.43,"u2":-0.38,"u3":-0.43},
{"x":10.43,"w1":-0.21,"w2":-0.21,"d1":-0.03,"d2":-0.03,"u1":-0.25,"u2":-0.21,"u3":-0.25},
{"x":10.48,"w1":-0.47,"w2":-0.47,"d1":-0.29,"d2":-0.29,"u1":-0.43,"u2":-0.38,"u3":-0.43},
{"x":10.52,"w1":-0.16,"w2":-0.16,"d1":-0.12,"d2":-0.12,"u1":-0.16,"u2":-0.21,"u3":-0.25},
{"x":10.56,"w1":0.19,"w2":0.19,"d1":0.37,"d2":0.37,"u1":0.28,"u2":0.15,"u3":0.11},
{"x":10.6,"w1":0.63,"w2":0.63,"d1":0.68,"d2":0.68,"u1":0.77,"u2":0.64,"u3":0.64},
{"x":10.64,"w1":0.23,"w2":0.23,"d1":0.33,"d2":0.33,"u1":0.19,"u2":0.19,"u3":0.15},
{"x":10.68,"w1":0.01,"w2":0.01,"d1":0.06,"d2":0.06,"u1":-0.07,"u2":-0.03,"u3":-0.07},
{"x":10.72,"w1":-0.21,"w2":-0.21,"d1":-0.12,"d2":-0.12,"u1":-0.25,"u2":-0.21,"u3":-0.25},
{"x":10.77,"w1":-0.29,"w2":-0.29,"d1":-0.07,"d2":-0.07,"u1":-0.16,"u2":-0.12,"u3":-0.16},
{"x":10.81,"w1":-0.25,"w2":-0.25,"d1":-0.03,"d2":-0.03,"u1":-0.07,"u2":-0.07,"u3":-0.12},
{"x":10.85,"w1":-0.16,"w2":-0.16,"d1":-0.12,"d2":-0.12,"u1":-0.16,"u2":-0.16,"u3":-0.21},
{"x":10.9,"w1":-0.07,"w2":-0.07,"d1":-0.03,"d2":-0.03,"u1":-0.07,"u2":-0.03,"u3":-0.07},
{"x":10.94,"w1":-0.25,"w2":-0.25,"d1":-0.12,"d2":-0.12,"u1":-0.12,"u2":-0.12,"u3":-0.16},
{"x":10.98,"w1":-0.16,"w2":-0.16,"d1":0.02,"d2":0.02,"u1":-0.03,"u2":-0.03,"u3":-0.07},
{"x":11.02,"w1":-0.03,"w2":-0.03,"d1":0.06,"d2":0.06,"u1":-0.07,"u2":-0.03,"u3":-0.07},
{"x":11.06,"w1":-0.43,"w2":-0.43,"d1":-0.29,"d2":-0.29,"u1":-0.52,"u2":-0.38,"u3":-0.43},
{"x":11.1,"w1":-1.4,"w2":-1.4,"d1":-1.05,"d2":-1.22,"u1":-1.49,"u2":-1.0,"u3":-1.05},
{"x":11.14,"w1":-0.69,"w2":-0.69,"d1":-0.65,"d2":-0.65,"u1":-0.69,"u2":-0.56,"u3":-0.6},
{"x":11.19,"w1":-0.34,"w2":-0.34,"d1":-0.29,"d2":-0.29,"u1":-0.34,"u2":-0.29,"u3":-0.34},
{"x":11.23,"w1":0.28,"w2":0.28,"d1":0.24,"d2":0.24,"u1":0.28,"u2":0.15,"u3":0.11},
{"x":11.27,"w1":0.41,"w2":0.41,"d1":0.28,"d2":0.28,"u1":0.46,"u2":0.24,"u3":0.19},
{"x":11.31,"w1":0.19,"w2":0.19,"d1":0.15,"d2":0.15,"u1":0.28,"u2":0.15,"u3":0.11},
{"x":11.36,"w1":0.28,"w2":0.28,"d1":0.24,"d2":0.24,"u1":0.37,"u2":0.02,"u3":-0.03},
{"x":11.41,"w1":0.06,"w2":0.06,"d1":0.02,"d2":0.02,"u1":0.19,"u2":-0.03,"u3":-0.07},
{"x":11.45,"w1":0.23,"w2":0.23,"d1":0.15,"d2":0.15,"u1":0.28,"u2":0.06,"u3":0.02},
{"x":11.49,"w1":0.32,"w2":0.32,"d1":0.24,"d2":0.24,"u1":0.11,"u2":-0.03,"u3":-0.12},
{"x":11.53,"w1":0.46,"w2":0.46,"d1":0.37,"d2":0.37,"u1":0.46,"u2":0.15,"u3":0.11},
{"x":11.58,"w1":0.54,"w2":0.54,"d1":0.59,"d2":0.59,"u1":0.64,"u2":0.33,"u3":0.28},
{"x":11.62,"w1":0.63,"w2":0.63,"d1":0.68,"d2":0.68,"u1":0.77,"u2":0.37,"u3":0.33},
{"x":11.66,"w1":0.37,"w2":0.37,"d1":0.42,"d2":0.42,"u1":0.46,"u2":0.15,"u3":0.11},
{"x":11.71,"w1":-0.16,"w2":-0.16,"d1":-0.12,"d2":-0.12,"u1":-0.16,"u2":-0.29,"u3":-0.34},
{"x":11.75,"w1":-0.69,"w2":-0.69,"d1":-0.74,"d2":-0.74,"u1":-0.87,"u2":-0.74,"u3":-0.78},
{"x":11.78,"w1":-1.66,"w2":-1.66,"d1":-1.36,"d2":-1.58,"u1":-2.11,"u2":-1.31,"u3":-1.4},
{"x":11.82,"w1":-0.69,"w2":-0.69,"d1":-0.65,"d2":-0.65,"u1":-0.87,"u2":-0.65,"u3":-0.69},
{"x":11.85,"w1":-0.38,"w2":-0.38,"d1":-0.38,"d2":-0.38,"u1":-0.6,"u2":-0.47,"u3":-0.52},
{"x":11.88,"w1":-0.6,"w2":-0.6,"d1":-0.96,"d2":-0.96,"u1":-1.05,"u2":-0.74,"u3":-0.78},
{"x":11.93,"w1":-0.38,"w2":-0.38,"d1":-0.56,"d2":-0.56,"u1":-0.6,"u2":-0.38,"u3":-0.43},
{"x":11.97,"w1":0.01,"w2":0.01,"d1":-0.2,"d2":-0.2,"u1":-0.16,"u2":-0.12,"u3":-0.16},
{"x":12.01,"w1":0.37,"w2":0.37,"d1":0.15,"d2":0.15,"u1":0.28,"u2":0.24,"u3":0.19},
{"x":12.04,"w1":0.63,"w2":0.63,"d1":0.5,"d2":0.5,"u1":0.46,"u2":0.37,"u3":0.33},
{"x":12.08,"w1":0.72,"w2":0.72,"d1":0.59,"d2":0.59,"u1":0.37,"u2":0.33,"u3":0.28},
{"x":12.12,"w1":0.46,"w2":0.46,"d1":0.33,"d2":0.33,"u1":0.28,"u2":0.19,"u3":0.15},
{"x":12.17,"w1":1.03,"w2":1.03,"d1":0.99,"d2":0.99,"u1":1.17,"u2":0.77,"u3":0.73},
{"x":12.21,"w1":0.54,"w2":0.54,"d1":0.42,"d2":0.42,"u1":0.28,"u2":0.15,"u3":0.11},
{"x":12.24,"w1":0.19,"w2":0.19,"d1":-0.12,"d2":-0.12,"u1":-0.34,"u2":-0.16,"u3":-0.21},
{"x":12.29,"w1":-0.16,"w2":-0.16,"d1":-0.2,"d2":-0.2,"u1":-0.52,"u2":-0.29,"u3":-0.34},
{"x":12.33,"w1":-0.34,"w2":-0.34,"d1":-0.29,"d2":-0.29,"u1":-0.6,"u2":-0.38,"u3":-0.43},
{"x":12.36,"w1":-0.74,"w2":-0.74,"d1":-0.52,"d2":-0.52,"u1":-0.83,"u2":-0.47,"u3":-0.52},
{"x":12.4,"w1":-0.34,"w2":-0.34,"d1":-0.2,"d2":-0.2,"u1":-0.25,"u2":-0.21,"u3":-0.25},
{"x":12.44,"w1":-0.07,"w2":-0.07,"d1":0.02,"d2":0.02,"u1":-0.03,"u2":-0.03,"u3":-0.07},
{"x":12.48,"w1":0.01,"w2":0.01,"d1":0.11,"d2":0.11,"u1":0.02,"u2":0.06,"u3":0.02},
{"x":12.52,"w1":-0.03,"w2":-0.03,"d1":0.06,"d2":0.06,"u1":-0.07,"u2":0.02,"u3":-0.03},
{"x":12.56,"w1":-0.16,"w2":-0.16,"d1":-0.07,"d2":-0.07,"u1":-0.25,"u2":-0.12,"u3":-0.16},
{"x":12.6,"w1":-0.16,"w2":-0.16,"d1":-0.07,"d2":-0.07,"u1":-0.25,"u2":-0.12,"u3":-0.16},
{"x":12.64,"w1":-0.03,"w2":-0.03,"d1":0.19,"d2":0.19,"u1":0.15,"u2":0.15,"u3":0.11},
{"x":12.69,"w1":-0.21,"w2":-0.21,"d1":-0.12,"d2":-0.12,"u1":-0.12,"u2":-0.03,"u3":-0.07},
{"x":12.74,"w1":-0.25,"w2":-0.25,"d1":-0.16,"d2":-0.16,"u1":-0.25,"u2":-0.16,"u3":-0.25},
{"x":12.78,"w1":-0.07,"w2":-0.07,"d1":-0.03,"d2":-0.03,"u1":-0.16,"u2":-0.07,"u3":-0.12},
{"x":12.82,"w1":-0.16,"w2":-0.16,"d1":-0.12,"d2":-0.12,"u1":-0.07,"u2":-0.07,"u3":-0.16},
{"x":12.86,"w1":-0.34,"w2":-0.34,"d1":-0.29,"d2":-0.29,"u1":-0.21,"u2":-0.21,"u3":-0.25},
{"x":12.9,"w1":-0.07,"w2":-0.07,"d1":0.02,"d2":0.02,"u1":-0.07,"u2":-0.07,"u3":-0.12},
{"x":12.95,"w1":-0.16,"w2":-0.16,"d1":-0.12,"d2":-0.12,"u1":-0.21,"u2":-0.12,"u3":-0.16},
{"x":12.99,"w1":-0.21,"w2":-0.21,"d1":-0.2,"d2":-0.2,"u1":-0.38,"u2":-0.21,"u3":-0.25},
{"x":13.04,"w1":-0.34,"w2":-0.34,"d1":-0.25,"d2":-0.25,"u1":-0.52,"u2":-0.29,"u3":-0.34},
{"x":13.08,"w1":-0.38,"w2":-0.38,"d1":-0.38,"d2":-0.38,"u1":-0.56,"u2":-0.38,"u3":-0.43},
{"x":13.12,"w1":-0.16,"w2":-0.16,"d1":-0.03,"d2":-0.03,"u1":-0.03,"u2":-0.03,"u3":-0.07},
{"x":13.16,"w1":0.06,"w2":0.06,"d1":0.37,"d2":0.37,"u1":0.37,"u2":0.33,"u3":0.28},
{"x":13.21,"w1":-0.07,"w2":-0.07,"d1":0.11,"d2":0.11,"u1":0.11,"u2":0.06,"u3":0.02},
{"x":13.25,"w1":-0.07,"w2":-0.07,"d1":0.06,"d2":0.06,"u1":0.02,"u2":-0.03,"u3":-0.07},
{"x":13.3,"w1":0.19,"w2":0.19,"d1":-0.2,"d2":-0.2,"u1":-0.07,"u2":-0.12,"u3":-0.16},
{"x":13.34,"w1":0.1,"w2":0.1,"d1":0.15,"d2":0.15,"u1":0.11,"u2":0.02,"u3":-0.03},
{"x":13.39,"w1":0.19,"w2":0.19,"d1":0.11,"d2":0.11,"u1":0.02,"u2":0.02,"u3":-0.03},
{"x":13.43,"w1":0.23,"w2":0.23,"d1":-0.03,"d2":-0.03,"u1":-0.07,"u2":-0.03,"u3":-0.07},
{"x":13.47,"w1":0.1,"w2":0.1,"d1":0.15,"d2":0.15,"u1":0.02,"u2":0.02,"u3":-0.03},
{"x":13.51,"w1":0.32,"w2":0.32,"d1":0.06,"d2":0.06,"u1":0.11,"u2":0.06,"u3":0.02},
{"x":13.56,"w1":0.5,"w2":0.5,"d1":0.33,"d2":0.33,"u1":0.42,"u2":0.28,"u3":0.28},
{"x":13.6,"w1":0.37,"w2":0.37,"d1":0.42,"d2":0.42,"u1":0.42,"u2":0.37,"u3":0.37},
{"x":13.65,"w1":-0.12,"w2":-0.12,"d1":0.06,"d2":0.06,"u1":-0.07,"u2":0.06,"u3":0.02},
{"x":13.7,"w1":-1.13,"w2":-1.13,"d1":-0.96,"d2":-0.96,"u1":-1.14,"u2":-0.65,"u3":-0.69},
{"x":13.74,"w1":-0.43,"w2":-0.43,"d1":-0.29,"d2":-0.29,"u1":-0.34,"u2":-0.21,"u3":-0.25},
{"x":13.79,"w1":0.1,"w2":0.1,"d1":0.06,"d2":0.06,"u1":0.02,"u2":0.06,"u3":0.02},
{"x":13.84,"w1":0.28,"w2":0.28,"d1":0.24,"d2":0.24,"u1":0.11,"u2":0.15,"u3":0.11},
{"x":13.88,"w1":0.23,"w2":0.23,"d1":0.28,"d2":0.28,"u1":0.15,"u2":0.15,"u3":0.11},
{"x":13.92,"w1":0.37,"w2":0.37,"d1":0.33,"d2":0.33,"u1":0.28,"u2":0.24,"u3":0.19},
{"x":13.95,"w1":0.46,"w2":0.46,"d1":0.55,"d2":0.55,"u1":0.64,"u2":0.55,"u3":0.55},
{"x":13.99,"w1":0.37,"w2":0.37,"d1":0.42,"d2":0.42,"u1":0.42,"u2":0.37,"u3":0.37},
{"x":14.03,"w1":0.28,"w2":0.28,"d1":0.28,"d2":0.28,"u1":0.33,"u2":0.28,"u3":0.28},
{"x":14.08,"w1":0.06,"w2":0.06,"d1":0.15,"d2":0.15,"u1":0.19,"u2":0.15,"u3":0.11},
{"x":14.13,"w1":0.19,"w2":0.19,"d1":0.28,"d2":0.28,"u1":0.33,"u2":0.33,"u3":0.28},
{"x":14.17,"w1":0.1,"w2":0.1,"d1":0.33,"d2":0.33,"u1":0.28,"u2":0.33,"u3":0.28},
{"x":14.21,"w1":0.15,"w2":0.15,"d1":0.24,"d2":0.24,"u1":0.11,"u2":0.24,"u3":0.19},
{"x":14.25,"w1":0.15,"w2":0.15,"d1":0.19,"d2":0.19,"u1":0.06,"u2":0.19,"u3":0.15},
{"x":14.28,"w1":0.28,"w2":0.28,"d1":0.24,"d2":0.24,"u1":0.11,"u2":0.24,"u3":0.19},
{"x":14.31,"w1":0.15,"w2":0.15,"d1":0.15,"d2":0.15,"u1":-0.03,"u2":0.11,"u3":0.11},
{"x":14.36,"w1":-0.16,"w2":-0.16,"d1":-0.74,"d2":-0.74,"u1":-1.09,"u2":-0.56,"u3":-0.6},
{"x":14.4,"w1":-0.25,"w2":-0.25,"d1":-0.47,"d2":-0.47,"u1":-0.43,"u2":-0.21,"u3":-0.25},
{"x":14.44,"w1":-0.07,"w2":-0.07,"d1":0.24,"d2":0.24,"u1":0.28,"u2":0.28,"u3":0.28},
{"x":14.47,"w1":-0.25,"w2":-0.25,"d1":0.06,"d2":0.06,"u1":0.11,"u2":0.11,"u3":0.11},
{"x":14.52,"w1":-1.4,"w2":-1.4,"d1":-0.96,"d2":-1.09,"u1":-1.4,"u2":-0.83,"u3":-0.87},
{"x":14.56,"w1":-0.6,"w2":-0.6,"d1":-0.38,"d2":-0.38,"u1":-0.25,"u2":-0.12,"u3":-0.16},
{"x":14.6,"w1":0.01,"w2":0.01,"d1":0.15,"d2":0.15,"u1":0.28,"u2":0.28,"u3":0.28},
{"x":14.65,"w1":0.37,"w2":0.37,"d1":0.33,"d2":0.33,"u1":0.42,"u2":0.37,"u3":0.37},
{"x":14.69,"w1":0.37,"w2":0.37,"d1":0.33,"d2":0.33,"u1":0.42,"u2":0.37,"u3":0.37},
{"x":14.73,"w1":0.37,"w2":0.37,"d1":0.28,"d2":0.28,"u1":0.37,"u2":0.33,"u3":0.33},
{"x":14.77,"w1":0.37,"w2":0.37,"d1":0.28,"d2":0.28,"u1":0.28,"u2":0.28,"u3":0.28},
{"x":14.81,"w1":0.28,"w2":0.28,"d1":0.19,"d2":0.19,"u1":0.19,"u2":0.24,"u3":0.24},
{"x":14.86,"w1":0.01,"w2":0.01,"d1":-0.03,"d2":-0.03,"u1":-0.07,"u2":0.06,"u3":0.02},
{"x":14.9,"w1":-0.87,"w2":-0.87,"d1":-0.91,"d2":-0.91,"u1":-1.31,"u2":-0.78,"u3":-0.83},
{"x":14.94,"w1":-0.16,"w2":-0.16,"d1":-0.29,"d2":-0.29,"u1":-0.34,"u2":-0.21,"u3":-0.25},
{"x":14.98,"w1":0.06,"w2":0.06,"d1":0.06,"d2":0.06,"u1":0.02,"u2":0.15,"u3":0.11},
{"x":15.02,"w1":0.15,"w2":0.15,"d1":0.11,"d2":0.11,"u1":-0.07,"u2":0.19,"u3":0.15},
{"x":15.06,"w1":0.06,"w2":0.06,"d1":0.02,"d2":0.02,"u1":-0.07,"u2":0.15,"u3":0.11},
{"x":15.11,"w1":0.1,"w2":0.1,"d1":0.06,"d2":0.06,"u1":-0.03,"u2":0.11,"u3":0.06},
{"x":15.15,"w1":0.19,"w2":0.19,"d1":0.15,"d2":0.15,"u1":0.02,"u2":0.15,"u3":0.11},
{"x":15.19,"w1":0.1,"w2":0.1,"d1":0.06,"d2":0.06,"u1":-0.07,"u2":0.06,"u3":0.02},
{"x":15.24,"w1":-0.25,"w2":-0.25,"d1":-0.29,"d2":-0.29,"u1":-0.47,"u2":-0.29,"u3":-0.34},
{"x":15.28,"w1":0.06,"w2":0.06,"d1":0.15,"d2":0.15,"u1":-0.07,"u2":0.06,"u3":0.02},
{"x":15.32,"w1":0.23,"w2":0.23,"d1":0.33,"d2":0.33,"u1":0.11,"u2":0.28,"u3":0.24},
{"x":15.36,"w1":0.37,"w2":0.37,"d1":0.33,"d2":0.33,"u1":0.24,"u2":0.37,"u3":0.33},
{"x":15.41,"w1":0.15,"w2":0.15,"d1":0.15,"d2":0.15,"u1":-0.07,"u2":0.15,"u3":0.11},
{"x":15.46,"w1":-0.12,"w2":-0.12,"d1":-0.03,"d2":-0.03,"u1":-0.25,"u2":-0.03,"u3":-0.07},
{"x":15.5,"w1":-0.07,"w2":-0.07,"d1":0.06,"d2":0.06,"u1":-0.21,"u2":0.06,"u3":0.02},
{"x":15.54,"w1":0.15,"w2":0.15,"d1":0.19,"d2":0.19,"u1":0.02,"u2":0.19,"u3":0.15},
{"x":15.58,"w1":0.23,"w2":0.23,"d1":0.24,"d2":0.24,"u1":0.11,"u2":0.24,"u3":0.19},
{"x":15.63,"w1":0.1,"w2":0.1,"d1":0.11,"d2":0.11,"u1":-0.03,"u2":0.15,"u3":0.11},
{"x":15.67,"w1":0.1,"w2":0.1,"d1":0.06,"d2":0.06,"u1":-0.12,"u2":0.06,"u3":0.02},
{"x":15.71,"w1":-0.07,"w2":-0.07,"d1":-0.25,"d2":-0.25,"u1":-0.29,"u2":-0.16,"u3":-0.25},
{"x":15.75,"w1":0.1,"w2":0.1,"d1":0.06,"d2":0.06,"u1":-0.12,"u2":0.02,"u3":-0.03},
{"x":15.79,"w1":0.06,"w2":0.06,"d1":0.11,"d2":0.11,"u1":-0.07,"u2":0.06,"u3":0.02},
{"x":15.83,"w1":0.19,"w2":0.19,"d1":0.15,"d2":0.15,"u1":-0.03,"u2":0.15,"u3":0.11},
{"x":15.87,"w1":0.19,"w2":0.19,"d1":0.19,"d2":0.19,"u1":-0.07,"u2":0.15,"u3":0.11},
{"x":15.92,"w1":0.23,"w2":0.23,"d1":0.24,"d2":0.24,"u1":-0.03,"u2":0.19,"u3":0.15},
{"x":15.96,"w1":0.28,"w2":0.28,"d1":0.19,"d2":0.19,"u1":-0.07,"u2":0.15,"u3":0.11},
{"x":16.0,"w1":0.01,"w2":0.01,"d1":0.02,"d2":0.02,"u1":-0.25,"u2":-0.12,"u3":-0.16},
{"x":16.05,"w1":-0.65,"w2":-0.65,"d1":-0.38,"d2":-0.38,"u1":-0.78,"u2":-0.56,"u3":-0.6},
{"x":16.09,"w1":0.19,"w2":0.19,"d1":0.15,"d2":0.15,"u1":-0.07,"u2":-0.03,"u3":-0.07},
{"x":16.13,"w1":0.9,"w2":0.9,"d1":0.68,"d2":0.68,"u1":0.77,"u2":0.77,"u3":0.73},
{"x":16.17,"w1":0.72,"w2":0.72,"d1":0.42,"d2":0.42,"u1":0.55,"u2":0.59,"u3":0.55},
{"x":16.22,"w1":0.63,"w2":0.63,"d1":0.5,"d2":0.5,"u1":0.37,"u2":0.42,"u3":0.37},
{"x":16.27,"w1":0.63,"w2":0.63,"d1":0.55,"d2":0.55,"u1":0.59,"u2":0.5,"u3":0.46},
{"x":16.31,"w1":0.72,"w2":0.72,"d1":0.59,"d2":0.59,"u1":0.46,"u2":0.46,"u3":0.42},
{"x":16.35,"w1":0.63,"w2":0.63,"d1":0.37,"d2":0.37,"u1":0.37,"u2":0.33,"u3":0.28},
{"x":16.39,"w1":0.5,"w2":0.5,"d1":0.5,"d2":0.5,"u1":0.28,"u2":0.42,"u3":0.37},
{"x":16.44,"w1":0.72,"w2":0.72,"d1":0.73,"d2":0.73,"u1":0.46,"u2":0.59,"u3":0.55},
{"x":16.48,"w1":0.59,"w2":0.59,"d1":0.59,"d2":0.59,"u1":0.37,"u2":0.46,"u3":0.42},
{"x":16.52,"w1":0.5,"w2":0.5,"d1":0.5,"d2":0.5,"u1":0.42,"u2":0.42,"u3":0.37},
{"x":16.57,"w1":0.63,"w2":0.63,"d1":0.46,"d2":0.46,"u1":0.28,"u2":0.33,"u3":0.28},
{"x":16.61,"w1":0.41,"w2":0.41,"d1":0.33,"d2":0.33,"u1":0.24,"u2":0.28,"u3":0.24},
{"x":16.66,"w1":-0.43,"w2":-0.43,"d1":-0.56,"d2":-0.56,"u1":-0.65,"u2":-0.47,"u3":-0.52},
{"x":16.7,"w1":0.01,"w2":0.01,"d1":0.06,"d2":0.06,"u1":-0.07,"u2":-0.03,"u3":-0.07},
{"x":16.74,"w1":0.37,"w2":0.37,"d1":0.42,"d2":0.42,"u1":0.19,"u2":0.33,"u3":0.28},
{"x":16.79,"w1":0.72,"w2":0.72,"d1":0.68,"d2":0.68,"u1":0.64,"u2":0.68,"u3":0.64},
{"x":16.83,"w1":0.9,"w2":0.9,"d1":0.68,"d2":0.68,"u1":0.68,"u2":0.9,"u3":0.73},
{"x":16.87,"w1":0.63,"w2":0.63,"d1":0.5,"d2":0.5,"u1":0.46,"u2":0.59,"u3":0.55},
{"x":16.92,"w1":0.68,"w2":0.68,"d1":0.5,"d2":0.5,"u1":0.37,"u2":0.46,"u3":0.42},
{"x":16.96,"w1":0.56,"w2":0.76,"d1":0.77,"d2":0.77,"u1":0.55,"u2":0.68,"u3":0.64},
{"x":17.0,"w1":0.34,"w2":0.54,"d1":0.68,"d2":0.68,"u1":0.5,"u2":0.59,"u3":0.55},
{"x":17.04,"w1":0.52,"w2":0.72,"d1":0.55,"d2":0.55,"u1":0.37,"u2":0.42,"u3":0.37},
{"x":17.09,"w1":0.43,"w2":0.63,"d1":0.64,"d2":0.64,"u1":0.37,"u2":0.46,"u3":0.42},
{"x":17.13,"w1":0.48,"w2":0.68,"d1":0.64,"d2":0.64,"u1":0.42,"u2":0.5,"u3":0.46},
{"x":17.18,"w1":0.7,"w2":0.9,"d1":0.77,"d2":0.77,"u1":0.77,"u2":0.77,"u3":0.73},
{"x":17.22,"w1":0.83,"w2":1.03,"d1":0.86,"d2":0.86,"u1":0.9,"u2":0.99,"u3":0.95},
{"x":17.26,"w1":0.7,"w2":0.9,"d1":0.77,"d2":0.77,"u1":0.73,"u2":0.77,"u3":0.77},
{"x":17.3,"w1":0.65,"w2":0.85,"d1":0.68,"d2":0.68,"u1":0.64,"u2":0.68,"u3":0.68},
{"x":17.35,"w1":0.56,"w2":0.76,"d1":0.64,"d2":0.64,"u1":0.55,"u2":0.59,"u3":0.59},
{"x":17.39,"w1":0.52,"w2":0.72,"d1":0.59,"d2":0.59,"u1":0.64,"u2":0.55,"u3":0.55},
{"x":17.44,"w1":0.43,"w2":0.63,"d1":0.55,"d2":0.55,"u1":0.42,"u2":0.46,"u3":0.46},
{"x":17.48,"w1":0.17,"w2":0.37,"d1":0.68,"d2":0.68,"u1":0.73,"u2":0.64,"u3":0.64},
{"x":17.52,"w1":-0.1,"w2":0.01,"d1":0.11,"d2":0.11,"u1":0.02,"u2":0.11,"u3":0.11},
{"x":17.56,"w1":0.72,"w2":0.72,"d1":0.68,"d2":0.68,"u1":0.73,"u2":0.64,"u3":0.64},
{"x":17.6,"w1":1.43,"w2":1.43,"d1":1.21,"d2":1.21,"u1":1.52,"u2":1.26,"u3":1.26},
{"x":17.63,"w1":1.65,"w2":1.73,"d1":1.52,"d2":1.52,"u1":1.79,"u2":1.52,"u3":1.52},
{"x":17.67,"w1":1.65,"w2":1.65,"d1":1.39,"d2":1.39,"u1":1.52,"u2":1.35,"u3":1.35},
{"x":17.68,"w1":-0.03,"w2":-0.03,"d1":0.02,"d2":0.02,"u1":-0.03,"u2":-0.03,"u3":-0.03}
]
},
"vconcat": [
{
"width": 1162, "height": 204,
"layer": [
{"data": {"name": "ins"}, "mark": {"type": "rule", "color": "#e9e9e9", "strokeWidth": 3.5},
 "encoding": {
  "x": {"field": "pos", "type": "quantitative", "scale": {"domain": [0, 18.5], "nice": false, "zero": false}, "axis": null},
  "y": {"datum": 3.015, "type": "quantitative", "scale": {"domain": [-2.2, 3.2], "nice": false, "zero": false},
        "axis": {"values": [-2.2, 3.2], "format": ".1f", "title": null, "offset": 11, "tickSize": 7, "tickColor": "black", "domainColor": "black", "labelColor": "black", "labelFont": "DejaVu Sans", "labelFontSize": 13, "labelPadding": 2, "labelFlush": true, "grid": false}},
  "y2": {"datum": -2.835}}},
{"data": {"name": "scores"}, "transform": [{"fold": ["w1", "w2"], "as": ["rep", "score"]}, {"filter": "isValid(datum.score)"}],
 "mark": {"type": "line", "strokeWidth": 1.4},
 "encoding": {
  "x": {"field": "x", "type": "quantitative"},
  "y": {"field": "score", "type": "quantitative"},
  "color": {"field": "rep", "type": "nominal", "scale": {"domain": ["w1", "w2"], "range": ["#000000", "#b4b4b4"]}, "legend": null}}},
{"data": {"values": [{"x": 16.71, "y": 2.618, "label": "Wild type"}, {"x": 14.3, "y": 3.968, "label": "insertion region"}]},
 "mark": {"type": "text", "font": "Liberation Sans", "fontSize": 31, "lineHeight": 37, "lineBreak": "\n", "align": "center", "baseline": "middle", "color": "black"},
 "encoding": {"x": {"field": "x", "type": "quantitative"}, "y": {"field": "y", "type": "quantitative"}, "text": {"field": "label"}}}
]
},
{
"width": 1162, "height": 203,
"layer": [
{"data": {"name": "ins"}, "mark": {"type": "rule", "color": "#e9e9e9", "strokeWidth": 3.5},
 "encoding": {
  "x": {"field": "pos", "type": "quantitative", "scale": {"domain": [0, 18.5], "nice": false, "zero": false}, "axis": null},
  "y": {"datum": 3.2, "type": "quantitative", "scale": {"domain": [-2.2, 3.2], "nice": false, "zero": false},
        "axis": {"values": [-2.2, 3.2], "format": ".1f", "title": "Insulation score for the entire X in different replicates", "titleFont": "Liberation Sans", "titleFontSize": 26.8, "titleFontWeight": "normal", "titleColor": "black", "titlePadding": 18, "titleY": 111, "offset": 11, "tickSize": 7, "tickColor": "black", "domainColor": "black", "labelColor": "black", "labelFont": "DejaVu Sans", "labelFontSize": 13, "labelPadding": 2, "labelFlush": true, "grid": false}},
  "y2": {"datum": -2.865}}},
{"data": {"name": "scores"}, "transform": [{"fold": ["d1", "d2"], "as": ["rep", "score"]}, {"filter": "isValid(datum.score)"}],
 "mark": {"type": "line", "strokeWidth": 1.4},
 "encoding": {
  "x": {"field": "x", "type": "quantitative"},
  "y": {"field": "score", "type": "quantitative"},
  "color": {"field": "rep", "type": "nominal", "scale": {"domain": ["d1", "d2"], "range": ["#ff0000", "#ffa500"]}, "legend": null}}},
{"data": {"values": [{"x": 16.455, "y": 3.4, "label": "Downstream\noriented insertion"}]},
 "mark": {"type": "text", "font": "Liberation Sans", "fontSize": 31, "lineHeight": 37, "lineBreak": "\n", "align": "center", "baseline": "middle", "color": "black"},
 "encoding": {"x": {"field": "x", "type": "quantitative"}, "y": {"field": "y", "type": "quantitative"}, "text": {"field": "label"}}}
]
},
{
"width": 1162, "height": 203,
"layer": [
{"data": {"name": "ins"}, "mark": {"type": "rule", "color": "#e9e9e9", "strokeWidth": 3.5},
 "encoding": {
  "x": {"field": "pos", "type": "quantitative", "scale": {"domain": [0, 18.5], "nice": false, "zero": false}, "axis": null},
  "y": {"datum": 3.2, "type": "quantitative", "scale": {"domain": [-2.2, 3.2], "nice": false, "zero": false},
        "axis": {"values": [-2.2, 3.2], "format": ".1f", "title": null, "offset": 11, "tickSize": 7, "tickColor": "black", "domainColor": "black", "labelColor": "black", "labelFont": "DejaVu Sans", "labelFontSize": 13, "labelPadding": 2, "labelFlush": true, "grid": false}},
  "y2": {"datum": -2.865}}},
{"data": {"name": "scores"}, "transform": [{"fold": ["u1", "u2", "u3"], "as": ["rep", "score"]}, {"filter": "isValid(datum.score)"}],
 "mark": {"type": "line", "strokeWidth": 1.4},
 "encoding": {
  "x": {"field": "x", "type": "quantitative"},
  "y": {"field": "score", "type": "quantitative"},
  "color": {"field": "rep", "type": "nominal", "scale": {"domain": ["u1", "u2", "u3"], "range": ["#0000ff", "#008000", "#800080"]}, "legend": null}}},
{"data": {"values": [{"x": 16.455, "y": 3.32, "label": "Upstream\noriented insertion"}]},
 "mark": {"type": "text", "font": "Liberation Sans", "fontSize": 31, "lineHeight": 37, "lineBreak": "\n", "align": "center", "baseline": "middle", "color": "black"},
 "encoding": {"x": {"field": "x", "type": "quantitative"}, "y": {"field": "y", "type": "quantitative"}, "text": {"field": "label"}}}
]
},
{
"width": 1162, "height": 62,
"layer": [
{"data": {"name": "ins"}, "mark": {"type": "rule", "color": "#e9e9e9", "strokeWidth": 3.5},
 "encoding": {
  "x": {"field": "pos", "type": "quantitative", "scale": {"domain": [0, 18.5], "nice": false, "zero": false},
        "axis": {"values": [2.5, 5, 7.5, 10, 12.5, 15, 17.5], "labelExpr": "datum.value == 17.5 ? '17.5\u00a0\u00a0Mbp' : format(datum.value, '.1f')", "title": "X", "titleFont": "DejaVu Sans", "titleFontSize": 17, "titleFontWeight": "normal", "titleColor": "black", "titlePadding": 18, "titleX": 596, "labelFont": "DejaVu Sans", "labelFontSize": 17, "labelColor": "black", "labelPadding": 4, "tickSize": -4, "tickColor": "black", "domainColor": "black", "labelFlush": false, "labelOverlap": false, "grid": false}},
  "y": {"datum": 1, "type": "quantitative", "scale": {"domain": [0, 1], "nice": false, "zero": false}, "axis": null},
  "y2": {"datum": 0.565}}},
{"data": {"values": [{"pos": 14.37}]}, "mark": {"type": "rule", "color": "#c8c8c8", "strokeWidth": 1.5},
 "encoding": {"x": {"field": "pos", "type": "quantitative"}, "y": {"datum": 0.839, "type": "quantitative"}, "y2": {"datum": 0.403}}},
{"data": {"values": [{"x": 16.28, "y": 0.532, "label": "insertion site"}]},
 "mark": {"type": "text", "font": "Liberation Sans", "fontSize": 31, "align": "center", "baseline": "middle", "color": "black"},
 "encoding": {"x": {"field": "x", "type": "quantitative"}, "y": {"field": "y", "type": "quantitative"}, "text": {"field": "label"}}}
]
}
]
}
